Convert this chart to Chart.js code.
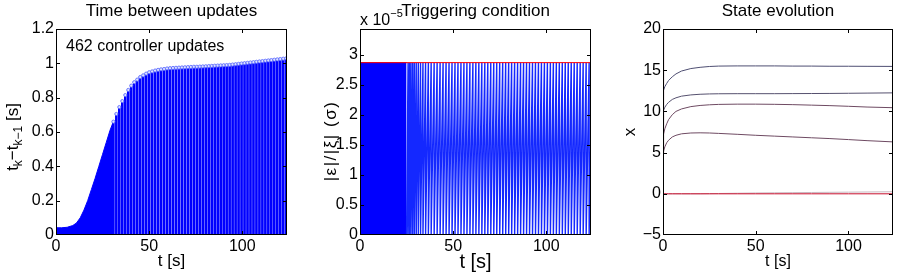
<!DOCTYPE html>
<html>
<head>
<meta charset="utf-8">
<script src="https://cdn.jsdelivr.net/npm/chart.js@4.4.0/dist/chart.umd.min.js"></script>
<style>
  html, body { margin: 0; padding: 0; background: #fff; }
  #wrap { position: relative; width: 915px; height: 275px; }
  canvas { position: absolute; top: 0; }
</style>
</head>
<body>
<div id="wrap">
  <canvas id="c1" width="305" height="275" style="left:0"></canvas>
  <canvas id="c2" width="305" height="275" style="left:305px"></canvas>
  <canvas id="c3" width="305" height="275" style="left:610px"></canvas>
</div>
<script>
const FONT = '"Liberation Sans", Arial, Helvetica, sans-serif';
const T_MAX = 124;

// left: time between updates (dense part drawn as an area, then single stems)
const denseT = [0, 1, 3, 6, 9, 11, 13, 15, 17, 19, 21, 23, 25, 27, 29, 30.8];
const denseH = [0.045, 0.042, 0.042, 0.045, 0.055, 0.07, 0.1, 0.145, 0.2, 0.265, 0.33, 0.4, 0.47, 0.54, 0.61, 0.66];
const stemT = [30.8, 32.4, 34.0, 35.6, 37.2, 38.8, 40.4, 42.0, 43.6, 45.2, 46.8, 48.4, 50.0, 51.6, 53.2,
  54.8, 56.4, 58.0, 59.6, 61.2, 62.8, 64.4, 66.0, 67.6, 69.2, 70.8, 72.4, 74.0, 75.6, 77.2, 78.8, 80.4,
  82.0, 83.6, 85.2, 86.8, 88.4, 90.0, 91.6, 93.2, 94.8, 96.4, 98.0, 99.6, 101.2, 102.8, 104.4, 106.0,
  107.6, 109.2, 110.8, 112.4, 114.0, 115.6, 117.2, 118.8, 120.4, 122.0, 123.6];
const stemH = [0.66, 0.705, 0.745, 0.78, 0.815, 0.845, 0.87, 0.89, 0.905, 0.92, 0.93, 0.94, 0.948, 0.953, 0.958,
  0.962, 0.965, 0.967, 0.97, 0.972, 0.973, 0.974, 0.975, 0.976, 0.977, 0.978, 0.979, 0.98, 0.98, 0.981, 0.982, 0.983,
  0.984, 0.985, 0.986, 0.987, 0.988, 0.989, 0.99, 0.991, 0.993, 0.995, 0.997, 0.999, 1.001, 1.003, 1.005, 1.007,
  1.009, 1.011, 1.013, 1.015, 1.017, 1.019, 1.021, 1.023, 1.025, 1.027, 1.029];
const nUpdates = 462;

// middle: triggering condition (units of 1e-5)
const THRESH = 2.87;
const solidEnd = 25;
const trigT = [25.0, 25.8, 26.6, 27.4, 28.3, 29.2, 30.2, 31.3, 32.5, 33.8, 35.2, 36.7, 38.2, 39.8,
  41.4, 43.0, 44.6, 46.2, 47.8, 49.4, 51.0, 52.6, 54.2, 55.8, 57.4, 59.0, 60.6, 62.2, 63.8, 65.4, 67.0,
  68.6, 70.2, 71.8, 73.4, 75.0, 76.6, 78.2, 79.8, 81.4, 83.0, 84.6, 86.2, 87.8, 89.4, 91.0, 92.6, 94.2,
  95.8, 97.4, 99.0, 100.6, 102.2, 103.8, 105.4, 107.0, 108.6, 110.2, 111.8, 113.4, 115.0, 116.6, 118.2,
  119.8, 121.4, 123.0, 124.6];

// right: state evolution
const stateT = [0, 1, 2, 3, 5, 7, 10, 15, 20, 25, 30, 40, 50, 60, 70, 80, 90, 100, 110, 124];
const x1 = [12.4, 13.0, 13.4, 13.75, 14.2, 14.55, 14.9, 15.2, 15.35, 15.45, 15.5, 15.52, 15.52, 15.52, 15.5, 15.5, 15.48, 15.48, 15.47, 15.46];
const x2 = [10.0, 10.5, 10.85, 11.1, 11.45, 11.65, 11.85, 12.0, 12.08, 12.12, 12.14, 12.15, 12.15, 12.15, 12.16, 12.17, 12.18, 12.2, 12.22, 12.25];
const x3 = [7.0, 7.9, 8.5, 9.0, 9.6, 10.0, 10.3, 10.58, 10.72, 10.8, 10.85, 10.88, 10.88, 10.86, 10.82, 10.76, 10.7, 10.62, 10.53, 10.45];
const x4 = [5.0, 5.7, 6.2, 6.5, 6.9, 7.1, 7.28, 7.38, 7.4, 7.38, 7.33, 7.22, 7.1, 7.0, 6.9, 6.8, 6.7, 6.58, 6.45, 6.3];
const x5 = [0, 0, 0, 0, 0, 0, 0, 0, 0, 0.02, 0.04, 0.07, 0.1, 0.12, 0.14, 0.16, 0.18, 0.2, 0.22, 0.25];
const x6 = [0, 0, 0, 0, 0, 0, 0, 0, 0, 0, 0, 0, 0, 0, 0, 0, 0, 0, 0, 0];
const spikeT = [0, 0.3];
const spikeX = [19.8, 5.0];

Chart.defaults.font.family = FONT;
Chart.defaults.color = '#000';

const pts = (xs, ys) => xs.map((x, i) => ({ x: x, y: ys[i] }));
const fmt = v => String(Math.round(v * 100) / 100).replace('-', '\u2212');

function xAxis() {
  return {
    type: 'linear', min: 0, max: T_MAX, offset: false,
    ticks: { stepSize: 50, includeBounds: false, maxRotation: 0, padding: 2, font: { size: 16 }, callback: fmt },
    grid: { display: false, drawTicks: false, offset: false }, border: { display: false },
    afterFit(s) { s.height = 40; }
  };
}
function yAxis(min, max, step, w) {
  return {
    type: 'linear', min: min, max: max,
    ticks: { stepSize: step, includeBounds: false, padding: 2, font: { size: 16 }, callback: fmt },
    grid: { display: false, drawTicks: false }, border: { display: false },
    afterFit(s) { s.width = w; }
  };
}

// matlab style box with inward ticks
function drawBox(chart) {
  const ctx = chart.ctx, a = chart.chartArea, sx = chart.scales.x, sy = chart.scales.y;
  const L = Math.round(a.left), R = Math.round(a.right) - 1, T = Math.round(a.top), B = Math.round(a.bottom) - 1;
  ctx.save();
  ctx.fillStyle = '#000';
  ctx.fillRect(L, T, R - L + 1, 1);
  ctx.fillRect(L, B, R - L + 1, 1);
  ctx.fillRect(L, T, 1, B - T + 1);
  ctx.fillRect(R, T, 1, B - T + 1);
  sy.ticks.forEach(t => {
    const py = Math.min(Math.round(sy.getPixelForValue(t.value)), B);
    ctx.fillRect(L, py, 4, 1);
    ctx.fillRect(R - 3, py, 4, 1);
  });
  sx.ticks.forEach(t => {
    const px = Math.round(sx.getPixelForValue(t.value));
    ctx.fillRect(px, B - 3, 1, 4);
    ctx.fillRect(px, T, 1, 4);
  });
  ctx.restore();
}

// text with sub/superscripts: segs = [[text, size, dy]]
function rich(ctx, segs, x, y, rot, align, spacing) {
  ctx.save();
  ctx.translate(x, y);
  if (rot) ctx.rotate(-Math.PI / 2);
  ctx.fillStyle = '#000';
  ctx.textBaseline = 'alphabetic';
  ctx.textAlign = 'left';
  if (spacing) ctx.letterSpacing = spacing;
  let w = 0;
  segs.forEach(s => { ctx.font = s[1] + 'px ' + FONT; w += ctx.measureText(s[0]).width; });
  let cx = align === 'left' ? 0 : -w / 2;
  segs.forEach(s => {
    ctx.font = s[1] + 'px ' + FONT;
    ctx.fillText(s[0], cx, s[2] || 0);
    cx += ctx.measureText(s[0]).width;
  });
  ctx.restore();
}
function decor(draw) {
  return {
    id: 'decor',
    afterDraw(chart) {
      drawBox(chart);
      draw(chart.ctx, chart.chartArea);
    }
  };
}

function opts(scales, right) {
  return {
    responsive: false, animation: false,
    layout: { padding: { left: 0, right: right, top: 29, bottom: 0 } },
    plugins: { legend: { display: false }, tooltip: { enabled: false } },
    scales: scales
  };
}

// panel 1
new Chart(document.getElementById('c1'), {
  type: 'line',
  data: {
    datasets: [
      { type: 'line', data: pts(stemT, stemH), showLine: false, pointRadius: 1.6, pointBorderWidth: 0.8,
        pointBorderColor: '#4f60ff', pointBackgroundColor: '#dde1ff' },
      { type: 'bar', data: pts(stemT, stemH), backgroundColor: '#0000ff', barThickness: 2, borderWidth: 0 },
      { type: 'line', data: pts(denseT, denseH), borderColor: '#0000ff', backgroundColor: '#0000ff',
        borderWidth: 1, pointRadius: 0, fill: 'origin' }
    ]
  },
  options: opts({ x: xAxis(), y: yAxis(0, 1.2, 0.2, 56) }, 18),
  plugins: [decor((ctx, a) => {
    const cx = (a.left + a.right) / 2;
    rich(ctx, [['Time between updates', 17]], cx, 16);
    rich(ctx, [[nUpdates + ' controller updates', 16]], 66, 51, false, 'left');
    rich(ctx, [['t [s]', 17]], cx, 266);
    rich(ctx, [['t', 17], ['k', 12, 4], ['\u2212t', 17], ['k\u22121', 12, 4], [' [s]', 17]], 18, 137, true);
  })]
});

// panel 2
const saw = [];
for (let i = 0; i < trigT.length - 1; i++) {
  saw.push({ x: trigT[i], y: 0 }, { x: trigT[i + 1], y: THRESH });
}
new Chart(document.getElementById('c2'), {
  type: 'line',
  data: {
    datasets: [
      { data: pts([0, T_MAX], [THRESH, THRESH]), borderColor: '#ff0000', borderWidth: 1, pointRadius: 0 },
      { data: saw, borderColor: '#1428ff', borderWidth: 1.4, pointRadius: 0 },
      { data: pts([0, solidEnd], [THRESH, THRESH]), borderColor: '#0000ff', backgroundColor: '#0000ff',
        borderWidth: 1, pointRadius: 0, fill: 'origin' }
    ]
  },
  options: opts({ x: xAxis(), y: yAxis(0, 3.43, 0.5, 55) }, 19),
  plugins: [decor((ctx, a) => {
    const cx = (a.left + a.right) / 2;
    rich(ctx, [['Triggering condition', 17]], cx, 16);
    rich(ctx, [['x 10', 16], ['\u22125', 11, -8]], a.left, 25, false, 'left');
    rich(ctx, [['t [s]', 20]], cx, 268);
    rich(ctx, [['|\u03b5|/|\u03be| (\u03c3)', 17]], 31, 141, true, null, '1.5px');
  })]
});

// panel 3
const lineSet = (ys, color) => ({ data: pts(stateT, ys), borderColor: color, borderWidth: 1, pointRadius: 0 });
new Chart(document.getElementById('c3'), {
  type: 'line',
  data: {
    datasets: [
      lineSet(x6, '#c8102e'),
      lineSet(x5, '#c9b8c0'),
      lineSet(x1, '#4e4e72'),
      lineSet(x2, '#55506e'),
      lineSet(x3, '#6e4a62'),
      lineSet(x4, '#6e4a62'),
      { data: pts(spikeT, spikeX), borderColor: '#7a2a40', borderWidth: 1, pointRadius: 0 }
    ]
  },
  options: opts({ x: xAxis(), y: yAxis(-5, 20, 5, 53) }, 22),
  plugins: [decor((ctx, a) => {
    const cx = (a.left + a.right) / 2;
    rich(ctx, [['State evolution', 17]], cx, 16);
    rich(ctx, [['t [s]', 16]], cx, 266);
    rich(ctx, [['x', 17]], 25, 132, true);
  })]
});
</script>
</body>
</html>
